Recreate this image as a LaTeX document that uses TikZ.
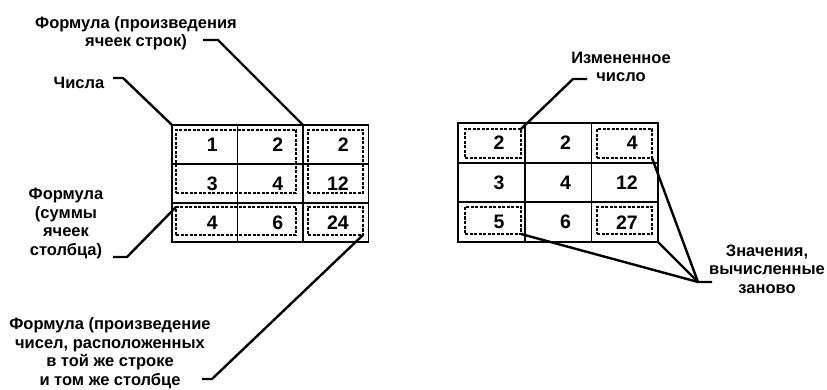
\documentclass[tikz,border=0pt]{standalone}
\usepackage{fontspec}
\setmainfont{Liberation Sans}
\usetikzlibrary{positioning}
\tikzset{
  cell/.style={draw,line width=1.8pt,outer sep=0pt,minimum width=65.5pt,minimum height=39pt,inner sep=0pt,text width=26pt,align=right,font=\bfseries\fontsize{19.5}{19.5}\selectfont},
  rcell/.style={cell,minimum width=66.7pt,minimum height=39.7pt},
  dbox/.style={draw,line width=2pt,dash pattern=on 3pt off 1.5pt,inner sep=0pt,outer sep=0pt},
  note/.style={align=center,font=\bfseries\fontsize{16.5}{18.5}\selectfont,inner sep=0pt},
  leader/.style={line width=2.4pt}
}
\begin{document}
\begin{tikzpicture}[x=1pt,y=-1pt]
\useasboundingbox (0,0) rectangle (827,390);
% left table
\node[cell] (l11) at (204.75,144.5) {1};
\node[cell,right=0pt of l11] (l12) {2};
\node[cell,right=0pt of l12] (l13) {2};
\node[cell,below=0pt of l11] (l21) {3};
\node[cell,right=0pt of l21] (l22) {4};
\node[cell,right=0pt of l22] (l23) {12};
\node[cell,below=0pt of l21] (l31) {4};
\node[cell,right=0pt of l31] (l32) {6};
\node[cell,right=0pt of l32] (l33) {24};
\node[dbox,minimum width=120pt,minimum height=63pt] (lnum) at (236,161.5) {};
\node[dbox,minimum width=55pt,minimum height=63pt] (lrow) at (335.5,161.5) {};
\node[dbox,minimum width=120pt,minimum height=28pt] (lcol) at (236,221) {};
\node[dbox,minimum width=55pt,minimum height=28pt] (ltot) at (335.5,221) {};
% right table
\node[rcell] (r11) at (491.35,142.85) {2};
\node[rcell,right=0pt of r11] (r12) {2};
\node[rcell,right=0pt of r12] (r13) {4};
\node[rcell,below=0pt of r11] (r21) {3};
\node[rcell,right=0pt of r21] (r22) {4};
\node[rcell,right=0pt of r22] (r23) {12};
\node[rcell,below=0pt of r21] (r31) {5};
\node[rcell,right=0pt of r31] (r32) {6};
\node[rcell,right=0pt of r32] (r33) {27};
\node[dbox,minimum width=56pt,minimum height=29pt] (rnew) at (493,143.5) {};
\node[dbox,minimum width=55pt,minimum height=29pt] (rrow) at (624.5,143.5) {};
\node[dbox,minimum width=56pt,minimum height=27pt] (rcol) at (493,220.5) {};
\node[dbox,minimum width=55pt,minimum height=27pt] (rtot) at (624.5,220.5) {};
% labels
\node[note] (numlbl) at (79,83) {Числа};
\node[note] (rowlbl) at (136,33) {Формула (произведения\\ячеек строк)};
\node[note] (collbl) at (66,223.5) {Формула\\(суммы\\ячеек\\столбца)};
\node[note] (totlbl) at (110,353) {Формула (произведение\\чисел, расположенных\\в той же строке\\и том же столбце};
\node[note] (newlbl) at (621,67) {Измененное\\число};
\node[note] (reclbl) at (767,269) {Значения,\\вычисленные\\заново};
\coordinate (numtick) at (113,78);
\coordinate (rowtick) at (203,40);
\coordinate (coltick) at (113,257);
\coordinate (tottick) at (202,379);
\coordinate (newtick) at (587,79);
\coordinate (rectick) at (712,282);
\coordinate (recjoin) at (698,282);
% leaders
\draw[leader] (numtick) -- ++(10,0) -- (l11.north west);
\draw[leader] (rowtick) -- ++(15,0) -- (l13.north west);
\draw[leader] (coltick) -- ++(14,0) -- (lcol.north west);
\draw[leader] (tottick) -- ++(10,0) -- (ltot.south east);
\draw[leader] (newtick) -- ++(-14,0) -- (rnew.north east);
\draw[leader] (rectick) -- (recjoin) -- (rrow.south east);
\draw[leader] (recjoin) -- (r33.south east);
\draw[leader] (recjoin) -- (rcol.south east);
\end{tikzpicture}
\end{document}
